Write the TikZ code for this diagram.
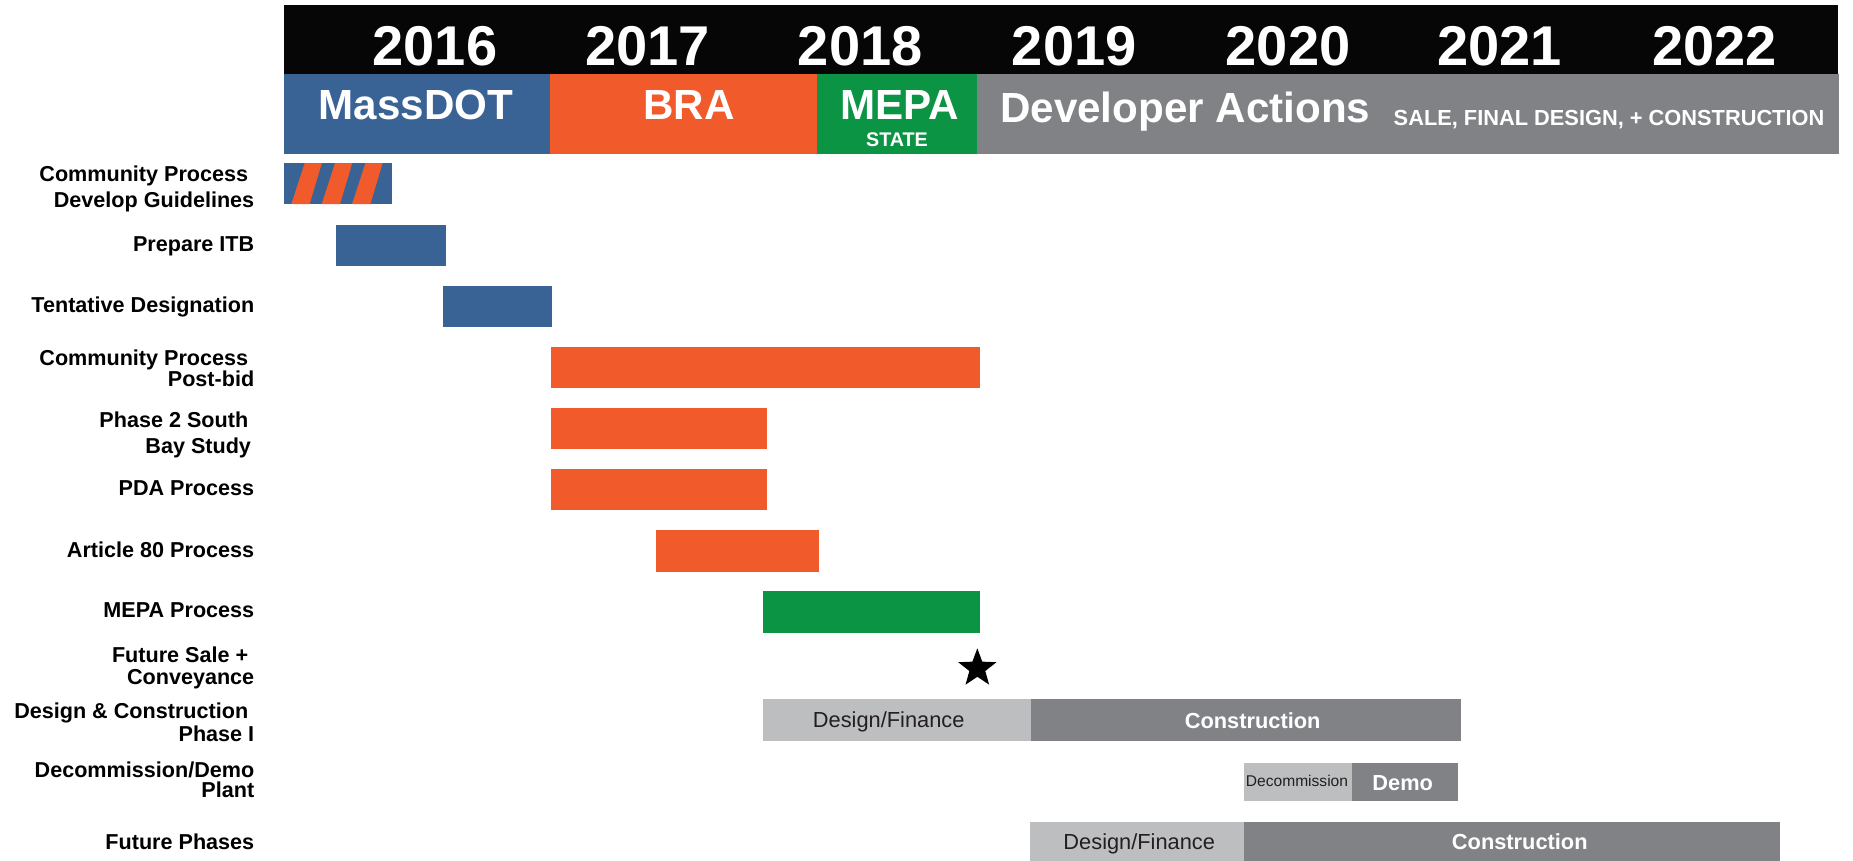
\documentclass[tikz,border=0pt]{standalone}
\usepackage{fontspec}
\setmainfont{Liberation Sans}
\usetikzlibrary{shapes.geometric}
\definecolor{mblue}{HTML}{396395}
\definecolor{morange}{HTML}{F15A2B}
\definecolor{mgreen}{HTML}{0B9444}
\definecolor{dgray}{HTML}{808285}
\definecolor{lgray}{HTML}{BCBEC0}
\definecolor{hblack}{HTML}{060606}
\definecolor{txtdark}{HTML}{231F20}
\begin{document}
\begin{tikzpicture}[x=0.02cm,y=-0.02cm,
  box/.style 2 args={draw=none, inner sep=0pt, outer sep=0pt, anchor=north west,
    minimum width=#1*0.02cm, minimum height=#2*0.02cm},
  lab/.style={anchor=north east, inner sep=0pt, align=right, text=black,
    font=\fontsize{10.4pt}{#1}\selectfont\bfseries},
  lab/.default=12pt,
  year/.style={anchor=base, inner sep=0pt, text=white, font=\fontsize{27pt}{30pt}\selectfont\bfseries},
  agency/.style={anchor=base, inner sep=0pt, text=white, font=\fontsize{20.3pt}{24pt}\selectfont\bfseries},
  small/.style={anchor=base, inner sep=0pt, text=white, font=\fontsize{#1}{12pt}\selectfont\bfseries},
  intext/.style={anchor=base, inner sep=0pt, text=txtdark, font=\fontsize{10.5pt}{12pt}\selectfont},
  inbold/.style={anchor=base, inner sep=0pt, text=white, font=\fontsize{10.5pt}{12pt}\selectfont\bfseries}
]
\fill[white] (0,0) rectangle (1568,728);
\useasboundingbox (0,0) rectangle (1568,728);

% header
\node[box={1315}{58.5}, fill=hblack] (hdr) at (240,4) {};
\foreach \yr/\xx in {2016/368,2017/548,2018/728,2019/909,2020/1090,2021/1269,2022/1451}
  \node[year] (y\yr) at (\xx,55) {\yr};
\node[box={225.5}{68}, fill=mblue] (massdot) at (240,62.5) {};
\node[box={226}{68}, fill=morange] (bra) at (465.5,62.5) {};
\node[box={135.5}{68}, fill=mgreen] (mepa) at (691.5,62.5) {};
\node[box={729}{68}, fill=dgray] (dev) at (827,62.5) {};
\node[agency] (tmass) at (352,101.5) {MassDOT};
\node[agency] (tbra) at (583,101.5) {BRA};
\node[agency] (tmepa) at (761,101.5) {MEPA};
\node[small=9.5pt] (tstate) at (759,124) {STATE};
\node[agency, anchor=base west] (tdev) at (846,104) {Developer Actions};
\node[small=10.5pt, anchor=base west] (tsale) at (1179,106.6) {SALE, FINAL DESIGN, + CONSTRUCTION};

% row labels
\node[lab=0.448cm] (l1) at (215.5,139.6) {Community Process\hspace*{0.28em}\\Develop Guidelines};
\node[lab] (l2) at (215.5,199.7) {Prepare ITB};
\node[lab] (l3) at (215.5,251) {Tentative Designation};
\node[lab=0.356cm] (l4) at (215.5,295.3) {Community Process\hspace*{0.28em}\\Post-bid};
\node[lab=0.434cm] (l5) at (215.5,348.3) {Phase 2 South\hspace*{0.28em}\\Bay Study\hspace*{0.15em}};
\node[lab] (l6) at (215.5,406) {PDA Process};
\node[lab] (l7) at (215.5,457.8) {Article 80 Process};
\node[lab] (l8) at (215.5,510) {MEPA Process};
\node[lab=0.374cm] (l9) at (215.5,546.6) {Future Sale +\hspace*{0.28em}\\Conveyance};
\node[lab=0.34cm] (l10) at (215.5,594.6) {Design \& Construction\hspace*{0.28em}\\Phase I};
\node[lab=0.34cm] (l11) at (215.5,644.5) {Decommission/Demo\\Plant};
\node[lab] (l12) at (215.5,705) {Future Phases};

% bars
\node[box={92}{34.7}, fill=mblue] (r1) at (240,138) {};
\begin{scope}
  \clip (r1.north west) rectangle (r1.south east);
  \foreach \k in {0,1,2}
    \fill[morange] (257.8+25.7*\k,138) -- (272.4+25.7*\k,138) -- (262+25.7*\k,172.7) -- (246.5+25.7*\k,172.7) -- cycle;
\end{scope}
\node[box={93}{34.4}, fill=mblue] (r2) at (284,190.4) {};
\node[box={92}{35.3}, fill=mblue] (r3) at (375,241.7) {};
\node[box={363}{34.6}, fill=morange] (r4) at (466,294) {};
\node[box={182.7}{35}, fill=morange] (r5) at (466,345.2) {};
\node[box={182.7}{34.7}, fill=morange] (r6) at (466,397.1) {};
\node[box={138.5}{35}, fill=morange] (r7) at (554.8,448.7) {};
\node[box={183.7}{35}, fill=mgreen] (r8) at (645.6,500.4) {};
\node[star, star points=5, star point ratio=2.4, fill=black, inner sep=0pt,
  minimum size=0.68cm] (r9) at (827,565.6) {};
\node[box={226.5}{35.2}, fill=lgray] (r10a) at (645.5,591.5) {};
\node[box={364}{35.2}, fill=dgray] (r10b) at (872,591.5) {};
\node[box={91.5}{32.5}, fill=lgray] (r11a) at (1052.5,645.5) {};
\node[box={89.5}{32.5}, fill=dgray] (r11b) at (1144,645.5) {};
\node[box={181}{34}, fill=lgray] (r12a) at (871.5,695.3) {};
\node[box={453.5}{34}, fill=dgray] (r12b) at (1052.5,695.3) {};

% bar texts
\node[intext] (t10a) at (752,616) {Design/Finance};
\node[inbold] (t10b) at (1060,616.5) {Construction};
\node[intext, font=\fontsize{7.5pt}{9pt}\selectfont] (t11a) at (1097.5,665.5) {Decommission};
\node[inbold] (t11b) at (1187,668.5) {Demo};
\node[intext] (t12a) at (964,719) {Design/Finance};
\node[inbold] (t12b) at (1286,719) {Construction};
\end{tikzpicture}
\end{document}
